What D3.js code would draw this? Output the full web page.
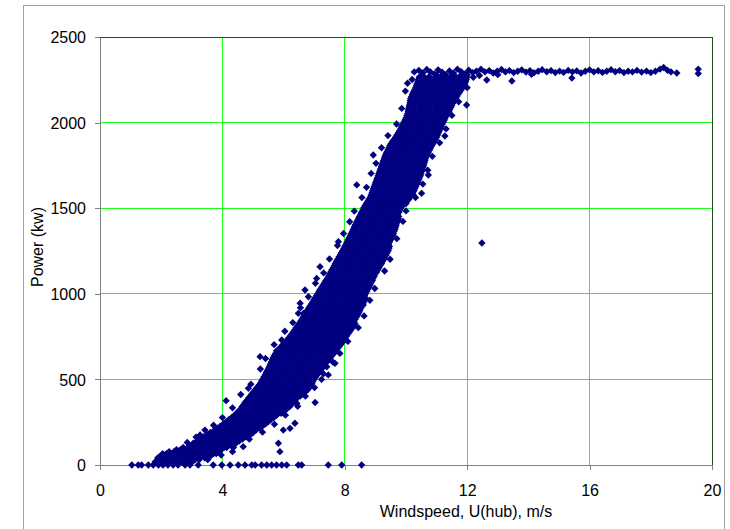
<!DOCTYPE html>
<html>
<head>
<meta charset="utf-8">
<script src="https://cdn.jsdelivr.net/npm/d3@7"></script>
<style>
  html, body { margin: 0; padding: 0; background: #fff; }
  svg text { font-family: "Liberation Sans", Arial, Helvetica, sans-serif; fill: #000; }
</style>
</head>
<body>
<svg id="chart" width="730" height="529"></svg>
<script>
// Axis ticks and titles
const xTicks = [0, 4, 8, 12, 16, 20];
const yTicks = [0, 500, 1000, 1500, 2000, 2500];
const xTitle = "Windspeed, U(hub), m/s";
const yTitle = "Power (kw)";

// Turbine stopped / idling: recorded wind speeds (m/s) at 0 kW
const zeroRow = [1.04, 1.25, 1.36, 1.58, 1.74, 1.91, 2.06, 2.22, 2.39, 2.55, 2.78, 2.94, 3.21, 3.7, 3.98,
  4.25, 4.52, 4.74, 4.96, 5.07, 5.28, 5.45, 5.61, 5.77, 5.94, 6.1, 6.48, 6.59, 7.46, 7.9, 8.55];

// Power band, grouped by power level (kW) -> wind speeds (m/s)
const lowBand = [
  [18, [1.80, 1.97, 2.15, 2.32, 2.49, 2.66, 2.84, 3.01]],
  [42, [1.89, 2.06, 2.24, 2.41, 2.58, 2.75, 2.93, 3.11, 3.26, 3.42]],
  [66, [2.05, 2.17, 2.33, 2.5, 2.67, 2.84, 3.02, 3.19, 3.37, 3.54, 3.71, 3.8]],
  [90, [2.5, 2.63, 2.79, 2.96, 3.13, 3.3, 3.46, 3.64, 3.81, 3.97]],
  [115, [2.93, 3.09, 3.27, 3.44, 3.62, 3.78, 3.96, 4.12, 4.27]],
  [140, [3.17, 3.35, 3.52, 3.7, 3.87, 4.05, 4.21, 4.38, 4.55]],
  [165, [3.39, 3.56, 3.73, 3.91, 4.08, 4.25, 4.43, 4.6, 4.78]],
  [190, [3.61, 3.78, 3.95, 4.12, 4.3, 4.47, 4.64, 4.82, 5.0]],
  [215, [3.84, 4.01, 4.18, 4.36, 4.53, 4.7, 4.88, 5.05, 5.21]],
  [240, [4.03, 4.2, 4.38, 4.55, 4.72, 4.9, 5.07, 5.24, 5.41]],
  [265, [4.21, 4.38, 4.56, 4.73, 4.9, 5.08, 5.25, 5.42, 5.58]],
  [290, [4.39, 4.56, 4.74, 4.91, 5.08, 5.26, 5.43, 5.6, 5.77]],
  [315, [4.53, 4.7, 4.88, 5.05, 5.22, 5.4, 5.57, 5.74, 5.91, 6.02]],
  [340, [4.64, 4.81, 4.99, 5.16, 5.33, 5.51, 5.68, 5.85, 6.03, 6.19]],
  [365, [4.74, 4.91, 5.09, 5.26, 5.43, 5.61, 5.78, 5.95, 6.13, 6.31]],
  [390, [4.85, 5.02, 5.2, 5.37, 5.54, 5.72, 5.89, 6.06, 6.24, 6.43]],
  [415, [4.96, 5.13, 5.31, 5.48, 5.65, 5.83, 6.0, 6.17, 6.35, 6.52, 6.61]],
  [440, [5.07, 5.24, 5.42, 5.59, 5.76, 5.94, 6.11, 6.28, 6.46, 6.63, 6.79]],
  [465, [5.19, 5.36, 5.54, 5.71, 5.88, 6.06, 6.23, 6.4, 6.58, 6.75, 6.89]],
  [490, [5.28, 5.45, 5.63, 5.8, 5.97, 6.15, 6.32, 6.49, 6.67, 6.84, 6.96]]
];
const lowFill = [
  [30, [1.88, 2.06, 2.23, 2.4, 2.58, 2.75, 2.93, 3.1, 3.24]],
  [54, [1.98, 2.15, 2.33, 2.5, 2.66, 2.84, 3.02, 3.19, 3.35, 3.5, 3.62]],
  [78, [2.26, 2.42, 2.59, 2.76, 2.93, 3.11, 3.28, 3.45, 3.63, 3.8, 3.9]],
  [102, [2.72, 2.88, 3.05, 3.21, 3.38, 3.55, 3.72, 3.89, 4.05, 4.14]],
  [127, [3.05, 3.18, 3.36, 3.53, 3.7, 3.87, 4.04, 4.21, 4.36, 4.44]],
  [152, [3.28, 3.44, 3.61, 3.79, 3.96, 4.13, 4.3, 4.47, 4.66]],
  [177, [3.5, 3.65, 3.82, 4.0, 4.17, 4.35, 4.52, 4.69, 4.86, 4.92]],
  [202, [3.73, 3.87, 4.04, 4.22, 4.39, 4.56, 4.74, 4.91, 5.09]],
  [227, [3.93, 4.1, 4.27, 4.45, 4.62, 4.79, 4.97, 5.14, 5.31]],
  [252, [4.12, 4.29, 4.47, 4.64, 4.81, 4.99, 5.16, 5.33, 5.5]],
  [277, [4.3, 4.47, 4.65, 4.82, 4.99, 5.17, 5.34, 5.51, 5.68]],
  [302, [4.46, 4.62, 4.8, 4.97, 5.14, 5.32, 5.49, 5.66, 5.83, 5.92]],
  [327, [4.6, 4.76, 4.93, 5.1, 5.27, 5.45, 5.62, 5.8, 5.97, 6.1]],
  [352, [4.7, 4.86, 5.04, 5.21, 5.38, 5.56, 5.73, 5.9, 6.08, 6.25]],
  [377, [4.8, 4.97, 5.15, 5.32, 5.49, 5.67, 5.84, 6.01, 6.19, 6.37]],
  [402, [4.91, 5.08, 5.26, 5.43, 5.6, 5.78, 5.95, 6.12, 6.3, 6.47, 6.54]],
  [427, [5.02, 5.19, 5.37, 5.54, 5.71, 5.89, 6.06, 6.23, 6.41, 6.58, 6.71]],
  [452, [5.13, 5.3, 5.48, 5.65, 5.82, 6.0, 6.17, 6.34, 6.52, 6.69, 6.84]],
  [477, [5.24, 5.41, 5.59, 5.76, 5.93, 6.11, 6.28, 6.45, 6.63, 6.8, 6.93]]
];

const midBand = [
  [515, [5.36, 5.53, 5.71, 5.88, 6.05, 6.23, 6.4, 6.57, 6.75, 6.92, 7.05]],
  [540, [5.43, 5.6, 5.78, 5.95, 6.12, 6.3, 6.47, 6.64, 6.82, 6.99, 7.15]],
  [565, [5.51, 5.68, 5.86, 6.03, 6.2, 6.38, 6.55, 6.72, 6.9, 7.07, 7.26]],
  [590, [5.57, 5.74, 5.92, 6.09, 6.26, 6.44, 6.61, 6.78, 6.96, 7.13, 7.32]],
  [615, [5.63, 5.8, 5.98, 6.15, 6.32, 6.5, 6.67, 6.84, 7.02, 7.19, 7.36, 7.48]],
  [640, [5.7, 5.87, 6.05, 6.22, 6.39, 6.57, 6.74, 6.91, 7.09, 7.26, 7.43, 7.58]],
  [665, [5.79, 5.96, 6.14, 6.31, 6.48, 6.66, 6.83, 7.0, 7.18, 7.35, 7.52, 7.69]],
  [690, [5.91, 6.08, 6.26, 6.43, 6.6, 6.78, 6.95, 7.12, 7.3, 7.47, 7.64, 7.81]],
  [715, [6.04, 6.21, 6.39, 6.56, 6.73, 6.91, 7.08, 7.25, 7.43, 7.6, 7.77, 7.92]],
  [740, [6.16, 6.33, 6.51, 6.68, 6.85, 7.03, 7.2, 7.37, 7.55, 7.72, 7.89, 8.0]],
  [765, [6.27, 6.44, 6.62, 6.79, 6.96, 7.14, 7.31, 7.48, 7.66, 7.83, 8.01, 8.1]],
  [790, [6.37, 6.54, 6.72, 6.89, 7.06, 7.24, 7.41, 7.58, 7.76, 7.93, 8.11, 8.2]],
  [815, [6.46, 6.63, 6.81, 6.98, 7.15, 7.33, 7.5, 7.67, 7.85, 8.02, 8.2, 8.29]],
  [840, [6.56, 6.73, 6.91, 7.08, 7.25, 7.43, 7.6, 7.77, 7.95, 8.12, 8.3]],
  [865, [6.64, 6.81, 6.99, 7.16, 7.33, 7.51, 7.68, 7.85, 8.03, 8.2, 8.38]],
  [890, [6.73, 6.9, 7.08, 7.25, 7.42, 7.6, 7.77, 7.94, 8.12, 8.29, 8.46]],
  [915, [6.82, 6.99, 7.17, 7.34, 7.51, 7.69, 7.86, 8.03, 8.21, 8.38, 8.52]],
  [940, [6.91, 7.08, 7.26, 7.43, 7.6, 7.78, 7.95, 8.12, 8.3, 8.47, 8.59]],
  [965, [6.99, 7.16, 7.34, 7.51, 7.68, 7.86, 8.03, 8.2, 8.38, 8.55, 8.64]],
  [990, [7.08, 7.25, 7.43, 7.6, 7.77, 7.95, 8.12, 8.29, 8.47, 8.64]],
  [1015, [7.16, 7.33, 7.51, 7.68, 7.85, 8.03, 8.2, 8.37, 8.55, 8.72]],
  [1040, [7.25, 7.42, 7.6, 7.77, 7.94, 8.12, 8.29, 8.46, 8.64, 8.79]],
  [1065, [7.34, 7.51, 7.69, 7.86, 8.03, 8.21, 8.38, 8.55, 8.73, 8.86]],
  [1090, [7.43, 7.6, 7.78, 7.95, 8.12, 8.3, 8.47, 8.64, 8.82, 8.92]],
  [1115, [7.51, 7.68, 7.86, 8.03, 8.2, 8.38, 8.55, 8.72, 8.9, 8.99]],
  [1140, [7.58, 7.75, 7.93, 8.1, 8.27, 8.45, 8.62, 8.79, 8.97, 9.07]],
  [1165, [7.66, 7.83, 8.01, 8.18, 8.35, 8.53, 8.7, 8.87, 9.05, 9.15]],
  [1190, [7.73, 7.9, 8.08, 8.25, 8.42, 8.6, 8.77, 8.94, 9.12, 9.23]],
  [1215, [7.81, 7.98, 8.16, 8.33, 8.5, 8.68, 8.85, 9.02, 9.2, 9.31]],
  [1240, [7.89, 8.06, 8.24, 8.41, 8.58, 8.76, 8.93, 9.1, 9.28, 9.38]],
  [1265, [7.97, 8.14, 8.32, 8.49, 8.66, 8.84, 9.01, 9.18, 9.36, 9.44]],
  [1290, [8.04, 8.21, 8.39, 8.56, 8.73, 8.91, 9.08, 9.25, 9.43]]
];
const midFill = [
  [502, [5.32, 5.49, 5.67, 5.84, 6.01, 6.19, 6.36, 6.53, 6.71, 6.88, 7.0]],
  [527, [5.4, 5.57, 5.75, 5.92, 6.09, 6.27, 6.44, 6.61, 6.79, 6.96, 7.1]],
  [552, [5.47, 5.64, 5.82, 5.99, 6.16, 6.34, 6.51, 6.68, 6.86, 7.03, 7.2]],
  [577, [5.54, 5.71, 5.89, 6.06, 6.23, 6.41, 6.58, 6.75, 6.93, 7.1, 7.28]],
  [602, [5.6, 5.77, 5.95, 6.12, 6.29, 6.47, 6.64, 6.81, 6.99, 7.16, 7.33, 7.42]],
  [627, [5.66, 5.83, 6.01, 6.18, 6.35, 6.53, 6.7, 6.87, 7.05, 7.22, 7.39, 7.53]],
  [652, [5.74, 5.91, 6.09, 6.26, 6.43, 6.61, 6.78, 6.95, 7.13, 7.3, 7.47, 7.64]],
  [677, [5.85, 6.02, 6.2, 6.37, 6.54, 6.72, 6.89, 7.06, 7.24, 7.41, 7.58, 7.75]],
  [702, [5.97, 6.14, 6.32, 6.49, 6.66, 6.84, 7.01, 7.18, 7.36, 7.53, 7.7, 7.86]],
  [727, [6.1, 6.27, 6.45, 6.62, 6.79, 6.97, 7.14, 7.31, 7.49, 7.66, 7.83, 7.96]],
  [752, [6.21, 6.38, 6.56, 6.73, 6.9, 7.08, 7.25, 7.42, 7.6, 7.77, 7.94, 8.05]],
  [777, [6.32, 6.49, 6.67, 6.84, 7.01, 7.19, 7.36, 7.53, 7.71, 7.88, 8.05, 8.15]],
  [802, [6.41, 6.58, 6.76, 6.93, 7.1, 7.28, 7.45, 7.62, 7.8, 7.97, 8.14, 8.25]],
  [827, [6.51, 6.68, 6.86, 7.03, 7.2, 7.38, 7.55, 7.72, 7.9, 8.07, 8.24, 8.33]],
  [852, [6.6, 6.77, 6.95, 7.12, 7.29, 7.47, 7.64, 7.81, 7.99, 8.16, 8.34]],
  [877, [6.68, 6.85, 7.03, 7.2, 7.37, 7.55, 7.72, 7.89, 8.07, 8.24, 8.42]],
  [902, [6.77, 6.94, 7.12, 7.29, 7.46, 7.64, 7.81, 7.98, 8.16, 8.33, 8.49]],
  [927, [6.86, 7.03, 7.21, 7.38, 7.55, 7.73, 7.9, 8.07, 8.25, 8.42, 8.56]],
  [952, [6.95, 7.12, 7.3, 7.47, 7.64, 7.82, 7.99, 8.16, 8.34, 8.51, 8.62]],
  [977, [7.03, 7.2, 7.38, 7.55, 7.72, 7.9, 8.07, 8.24, 8.42, 8.58, 8.67]],
  [1002, [7.12, 7.29, 7.47, 7.64, 7.81, 7.99, 8.16, 8.33, 8.51, 8.68]],
  [1027, [7.2, 7.37, 7.55, 7.72, 7.89, 8.07, 8.24, 8.41, 8.59, 8.75]],
  [1052, [7.29, 7.46, 7.64, 7.81, 7.98, 8.16, 8.33, 8.5, 8.68, 8.83]],
  [1077, [7.38, 7.55, 7.73, 7.9, 8.07, 8.25, 8.42, 8.59, 8.77, 8.9]],
  [1102, [7.47, 7.64, 7.82, 7.99, 8.16, 8.34, 8.51, 8.68, 8.86, 8.96]],
  [1127, [7.54, 7.71, 7.89, 8.06, 8.23, 8.41, 8.58, 8.75, 8.93, 9.04]],
  [1152, [7.62, 7.79, 7.97, 8.14, 8.31, 8.49, 8.66, 8.83, 9.01, 9.12]],
  [1177, [7.69, 7.86, 8.04, 8.21, 8.38, 8.56, 8.73, 8.9, 9.08, 9.2]],
  [1202, [7.77, 7.94, 8.12, 8.29, 8.46, 8.64, 8.81, 8.98, 9.16, 9.28]],
  [1227, [7.85, 8.02, 8.2, 8.37, 8.54, 8.72, 8.89, 9.06, 9.24, 9.35]],
  [1252, [7.93, 8.1, 8.28, 8.45, 8.62, 8.8, 8.97, 9.14, 9.32, 9.42]],
  [1277, [8.0, 8.17, 8.35, 8.52, 8.69, 8.87, 9.04, 9.21, 9.39, 9.46]]
];

const highBand = [
  [1315, [8.11, 8.28, 8.46, 8.63, 8.8, 8.98, 9.15, 9.32, 9.5]],
  [1340, [8.18, 8.35, 8.53, 8.7, 8.87, 9.05, 9.22, 9.39, 9.56]],
  [1365, [8.25, 8.42, 8.6, 8.77, 8.94, 9.12, 9.29, 9.46, 9.61]],
  [1390, [8.31, 8.48, 8.66, 8.83, 9.0, 9.18, 9.35, 9.52, 9.66]],
  [1415, [8.38, 8.55, 8.73, 8.9, 9.07, 9.25, 9.42, 9.59, 9.7]],
  [1440, [8.45, 8.62, 8.8, 8.97, 9.14, 9.32, 9.49, 9.66, 9.75]],
  [1465, [8.52, 8.69, 8.87, 9.04, 9.21, 9.39, 9.56, 9.73]],
  [1490, [8.59, 8.76, 8.94, 9.11, 9.28, 9.46, 9.63, 9.8]],
  [1515, [8.66, 8.83, 9.01, 9.18, 9.35, 9.53, 9.7, 9.88]],
  [1540, [8.75, 8.92, 9.1, 9.27, 9.44, 9.62, 9.79, 9.96, 10.03]],
  [1565, [8.84, 9.01, 9.19, 9.36, 9.53, 9.71, 9.88, 10.05, 10.13]],
  [1590, [8.89, 9.06, 9.24, 9.41, 9.58, 9.76, 9.93, 10.1, 10.22]],
  [1615, [8.94, 9.11, 9.29, 9.46, 9.63, 9.81, 9.98, 10.15, 10.29]],
  [1640, [8.99, 9.16, 9.34, 9.51, 9.68, 9.86, 10.03, 10.2, 10.35]],
  [1665, [9.04, 9.21, 9.39, 9.56, 9.73, 9.91, 10.08, 10.25, 10.41]],
  [1690, [9.09, 9.26, 9.44, 9.61, 9.78, 9.96, 10.13, 10.3, 10.47]],
  [1715, [9.14, 9.31, 9.49, 9.66, 9.83, 10.01, 10.18, 10.35, 10.51]],
  [1740, [9.19, 9.36, 9.54, 9.71, 9.88, 10.06, 10.23, 10.4, 10.56]],
  [1765, [9.24, 9.41, 9.59, 9.76, 9.93, 10.11, 10.28, 10.45, 10.6]],
  [1790, [9.29, 9.46, 9.64, 9.81, 9.98, 10.16, 10.33, 10.5, 10.64]],
  [1815, [9.34, 9.51, 9.69, 9.86, 10.03, 10.21, 10.38, 10.55, 10.69]],
  [1840, [9.41, 9.58, 9.76, 9.93, 10.1, 10.28, 10.45, 10.62, 10.77]],
  [1865, [9.47, 9.64, 9.82, 9.99, 10.16, 10.34, 10.51, 10.68, 10.84]],
  [1890, [9.56, 9.73, 9.91, 10.08, 10.25, 10.43, 10.6, 10.77, 10.92]],
  [1915, [9.66, 9.83, 10.01, 10.18, 10.35, 10.53, 10.7, 10.87, 11.0]],
  [1940, [9.75, 9.92, 10.1, 10.27, 10.44, 10.62, 10.79, 10.96, 11.06]],
  [1965, [9.83, 10.0, 10.18, 10.35, 10.52, 10.7, 10.87, 11.04, 11.12]],
  [1990, [9.9, 10.07, 10.25, 10.42, 10.59, 10.77, 10.94, 11.11, 11.18]],
  [2015, [9.97, 10.14, 10.32, 10.49, 10.66, 10.84, 11.01, 11.18, 11.25]],
  [2040, [10.03, 10.2, 10.38, 10.55, 10.72, 10.9, 11.07, 11.24, 11.32]],
  [2065, [10.07, 10.24, 10.42, 10.59, 10.76, 10.94, 11.11, 11.28, 11.4]],
  [2090, [10.1, 10.27, 10.45, 10.62, 10.79, 10.97, 11.14, 11.31, 11.47]],
  [2115, [10.13, 10.3, 10.48, 10.65, 10.82, 11.0, 11.17, 11.34, 11.53]],
  [2140, [10.15, 10.32, 10.5, 10.67, 10.84, 11.02, 11.19, 11.36, 11.54, 11.62]],
  [2165, [10.21, 10.38, 10.56, 10.73, 10.9, 11.08, 11.25, 11.42, 11.6, 11.7]],
  [2190, [10.28, 10.45, 10.63, 10.8, 10.97, 11.15, 11.32, 11.49, 11.67, 11.8]],
  [2215, [10.34, 10.51, 10.69, 10.86, 11.03, 11.21, 11.38, 11.55, 11.73, 11.88]],
  [2240, [10.39, 10.56, 10.74, 10.91, 11.08, 11.26, 11.43, 11.6, 11.78, 11.95]],
  [2265, [10.43, 10.6, 10.78, 10.95, 11.12, 11.3, 11.47, 11.64, 11.82, 11.99]]
];
const highFill = [
  [1302, [8.07, 8.24, 8.42, 8.59, 8.76, 8.94, 9.11, 9.28, 9.46]],
  [1327, [8.14, 8.31, 8.49, 8.66, 8.83, 9.01, 9.18, 9.35, 9.53]],
  [1352, [8.21, 8.38, 8.56, 8.73, 8.9, 9.08, 9.25, 9.42, 9.59]],
  [1377, [8.28, 8.45, 8.63, 8.8, 8.97, 9.15, 9.32, 9.49, 9.64]],
  [1402, [8.34, 8.51, 8.69, 8.86, 9.03, 9.21, 9.38, 9.55, 9.68]],
  [1427, [8.41, 8.58, 8.76, 8.93, 9.1, 9.28, 9.45, 9.62, 9.73]],
  [1452, [8.48, 8.65, 8.83, 9.0, 9.17, 9.35, 9.52, 9.69, 9.76]],
  [1477, [8.55, 8.72, 8.9, 9.07, 9.24, 9.42, 9.59, 9.77]],
  [1502, [8.62, 8.79, 8.97, 9.14, 9.31, 9.49, 9.66, 9.84]],
  [1527, [8.7, 8.87, 9.05, 9.22, 9.39, 9.57, 9.74, 9.92, 10.0]],
  [1552, [8.79, 8.96, 9.14, 9.31, 9.48, 9.66, 9.83, 10.0, 10.09]],
  [1577, [8.86, 9.03, 9.21, 9.38, 9.55, 9.73, 9.9, 10.07, 10.18]],
  [1602, [8.91, 9.08, 9.26, 9.43, 9.6, 9.78, 9.95, 10.12, 10.26]],
  [1627, [8.96, 9.13, 9.31, 9.48, 9.65, 9.83, 10.0, 10.17, 10.32]],
  [1652, [9.01, 9.18, 9.36, 9.53, 9.7, 9.88, 10.05, 10.22, 10.38]],
  [1677, [9.06, 9.23, 9.41, 9.58, 9.75, 9.93, 10.1, 10.27, 10.44]],
  [1702, [9.11, 9.28, 9.46, 9.63, 9.8, 9.98, 10.15, 10.32, 10.49]],
  [1727, [9.16, 9.33, 9.51, 9.68, 9.85, 10.03, 10.2, 10.37, 10.53]],
  [1752, [9.21, 9.38, 9.56, 9.73, 9.9, 10.08, 10.25, 10.42, 10.58]],
  [1777, [9.26, 9.43, 9.61, 9.78, 9.95, 10.13, 10.3, 10.47, 10.62]],
  [1802, [9.31, 9.48, 9.66, 9.83, 10.0, 10.18, 10.35, 10.52, 10.66]],
  [1827, [9.37, 9.54, 9.72, 9.89, 10.06, 10.24, 10.41, 10.58, 10.73]],
  [1852, [9.44, 9.61, 9.79, 9.96, 10.13, 10.31, 10.48, 10.65, 10.8]],
  [1877, [9.51, 9.68, 9.86, 10.03, 10.2, 10.38, 10.55, 10.72, 10.88]],
  [1902, [9.61, 9.78, 9.96, 10.13, 10.3, 10.48, 10.65, 10.82, 10.96]],
  [1927, [9.7, 9.87, 10.05, 10.22, 10.39, 10.57, 10.74, 10.91, 11.03]],
  [1952, [9.79, 9.96, 10.14, 10.31, 10.48, 10.66, 10.83, 11.0, 11.09]],
  [1977, [9.86, 10.03, 10.21, 10.38, 10.55, 10.73, 10.9, 11.07, 11.15]],
  [2002, [9.93, 10.1, 10.28, 10.45, 10.62, 10.8, 10.97, 11.14, 11.22]],
  [2027, [10.0, 10.17, 10.35, 10.52, 10.69, 10.87, 11.04, 11.21, 11.28]],
  [2052, [10.05, 10.22, 10.4, 10.57, 10.74, 10.92, 11.09, 11.26, 11.36]],
  [2077, [10.08, 10.25, 10.43, 10.6, 10.77, 10.95, 11.12, 11.29, 11.43]],
  [2102, [10.11, 10.28, 10.46, 10.63, 10.8, 10.98, 11.15, 11.32, 11.5]],
  [2127, [10.14, 10.31, 10.49, 10.66, 10.83, 11.01, 11.18, 11.35, 11.52, 11.58]],
  [2152, [10.18, 10.35, 10.53, 10.7, 10.87, 11.05, 11.22, 11.39, 11.57, 11.66]],
  [2177, [10.24, 10.41, 10.59, 10.76, 10.93, 11.11, 11.28, 11.45, 11.63, 11.75]],
  [2202, [10.31, 10.48, 10.66, 10.83, 11.0, 11.18, 11.35, 11.52, 11.7, 11.84]],
  [2227, [10.36, 10.53, 10.71, 10.88, 11.05, 11.23, 11.4, 11.57, 11.75, 11.92]],
  [2252, [10.41, 10.58, 10.76, 10.93, 11.1, 11.28, 11.45, 11.62, 11.8, 11.97]]
];

// Readings along the ragged edges of the band: [wind speed m/s, power kW]
const bandEdges = [
  [2.85, 132], [3.14, 163], [3.43, 204], [3.71, 232], [4.0, 277], [4.33, 334], [4.6, 412], [4.93, 472],
  [5.24, 561], [5.41, 622], [5.69, 703], [6.04, 781], [6.3, 832], [6.55, 918], [6.81, 983], [7.04, 1061],
  [7.31, 1122], [7.5, 1203], [7.76, 1282], [7.96, 1352], [8.16, 1421], [8.31, 1483], [8.56, 1562],
  [8.71, 1622], [8.86, 1703], [9.02, 1762], [9.2, 1853], [9.41, 1924], [9.69, 1992], [9.86, 2083],
  [9.98, 2184], [10.2, 2252], [10.05, 2230], [10.27, 2296],
  [3.52, 31], [3.96, 58], [4.36, 102], [4.88, 151], [5.31, 192], [5.7, 238], [6.06, 291], [6.46, 343],
  [6.71, 402], [7.01, 452], [7.3, 533], [7.84, 652], [8.1, 722], [8.44, 802], [8.63, 871], [8.82, 962],
  [8.98, 1031], [9.3, 1133], [9.48, 1202], [9.7, 1322], [9.9, 1423], [10.0, 1484], [10.31, 1562],
  [10.55, 1641], [10.71, 1722], [10.86, 1803], [11.1, 1882], [11.31, 1963], [11.5, 2042], [11.72, 2122],
  [12.0, 2204]
];

// Rated-power plateau: [wind speed m/s, power kW]
const plateau = [
  [10.42, 2305], [10.55, 2290], [10.68, 2310], [10.8, 2296], [10.93, 2285], [11.05, 2308], [11.18, 2294],
  [11.3, 2280], [11.42, 2302], [11.55, 2290], [11.68, 2312], [11.8, 2298], [11.93, 2284], [12.05, 2306],
  [12.18, 2292], [12.3, 2300], [12.45, 2312], [12.58, 2296], [12.72, 2304], [12.85, 2290], [12.98, 2300],
  [13.12, 2310], [13.25, 2296], [13.38, 2304], [13.52, 2292], [13.65, 2300], [13.78, 2308], [13.92, 2295],
  [14.05, 2303], [14.18, 2291], [14.32, 2300], [14.45, 2309], [14.6, 2297], [14.74, 2304], [14.88, 2292],
  [15.02, 2301], [15.15, 2293], [15.3, 2305], [15.44, 2296], [15.58, 2302], [15.72, 2290], [15.86, 2300],
  [16.0, 2308], [16.14, 2296], [16.28, 2303], [16.42, 2293], [16.56, 2300], [16.7, 2309], [16.84, 2297],
  [16.98, 2304], [17.12, 2292], [17.26, 2300], [17.4, 2296], [17.55, 2305], [17.7, 2295], [17.86, 2301],
  [18.0, 2292], [18.15, 2300], [18.3, 2312], [18.42, 2322], [18.55, 2305], [18.66, 2296], [18.85, 2290],
  [19.55, 2312], [19.55, 2287],
  [10.5, 2272], [10.75, 2268], [11.0, 2278], [11.25, 2266], [11.5, 2275], [11.75, 2270], [12.0, 2278],
  [12.2, 2265], [12.4, 2275], [12.64, 2249], [13.46, 2243], [15.42, 2260], [13.0, 2280], [14.1, 2282]
];

// Scattered readings away from the main band: [wind speed m/s, power kW]
const outliers = [
  [12.48, 1297],
  [5.83, 127], [5.88, 78], [5.99, 204], [6.21, 214], [6.37, 244], [6.43, 360], [7.03, 365],
  [5.23, 633], [4.12, 376], [3.27, 175], [3.54, 175], [4.68, 107], [4.33, 78],
  [4.85, 448], [5.77, 667], [5.94, 730], [6.54, 945], [6.48, 886], [6.65, 886],
  [8.6, 935], [7.62, 600], [7.41, 574], [7.24, 500], [7.46, 526], [7.68, 594], [8.17, 789],
  [6.7, 1022], [7.19, 1158], [7.08, 1090], [9.15, 1168], [9.31, 1227],
  [8.39, 1636], [7.79, 1304], [8.93, 1811], [11.27, 1922], [10.24, 1577], [10.51, 1587],
  [10.73, 1694], [10.35, 1655], [11.98, 2103]
];

const margin = { left: 100, right: 712, top: 37, bottom: 465 };
const svg = d3.select("#chart");

const x = d3.scaleLinear().domain([0, 20]).range([margin.left, margin.right]);
const y = d3.scaleLinear().domain([0, 2500]).range([margin.bottom, margin.top]);

// Chart frame
svg.append("rect")
  .attr("x", 23.5).attr("y", 5.5)
  .attr("width", 701).attr("height", 540)
  .attr("fill", "#fff").attr("stroke", "#a0a0a0").attr("stroke-width", 1);

// Gridlines
const grid = svg.append("g").attr("shape-rendering", "crispEdges");
grid.selectAll("line.vx").data(xTicks.filter(t => t > 0 && t < 20)).join("line")
  .attr("x1", d => x(d)).attr("x2", d => x(d))
  .attr("y1", margin.top).attr("y2", margin.bottom)
  .attr("stroke", "#1aff1a");
grid.selectAll("line.hy").data(yTicks.filter(t => t > 0 && t < 2500)).join("line")
  .attr("x1", margin.left).attr("x2", margin.right)
  .attr("y1", d => y(d)).attr("y2", d => y(d))
  .attr("stroke", "#1aff1a");

// Plot area border
svg.append("rect")
  .attr("x", margin.left).attr("y", margin.top)
  .attr("width", margin.right - margin.left).attr("height", margin.bottom - margin.top)
  .attr("fill", "none").attr("stroke", "#1f4f1f").attr("shape-rendering", "crispEdges");

// Axes
const yAxis = svg.append("g")
  .attr("transform", `translate(${margin.left},0)`)
  .call(d3.axisLeft(y).tickValues(yTicks).tickSize(5).tickSizeOuter(0).tickPadding(9).tickFormat(d3.format("d")));
const xAxis = svg.append("g")
  .attr("transform", `translate(0,${margin.bottom})`)
  .call(d3.axisBottom(x).tickValues(xTicks).tickSize(5).tickSizeOuter(0).tickPadding(14.6).tickFormat(d3.format("d")));

[yAxis, xAxis].forEach(g => {
  g.attr("shape-rendering", "crispEdges");
  g.select(".domain").attr("stroke", "#808080");
  g.selectAll(".tick line").attr("stroke", "#808080");
  g.selectAll(".tick text").attr("font-size", 16).attr("fill", "#000")
    .attr("font-family", "'Liberation Sans', Arial, sans-serif");
});
yAxis.selectAll(".tick text").attr("dy", "0.36em");

// Axis titles
svg.append("text")
  .attr("x", 466).attr("y", 517)
  .attr("text-anchor", "middle").attr("font-size", 16)
  .text(xTitle);
svg.append("text")
  .attr("transform", "translate(43,247) rotate(-90)")
  .attr("text-anchor", "middle").attr("font-size", 16)
  .text(yTitle);

// Measurements
const fromRows = rows => rows.flatMap(([p, speeds]) => speeds.map(v => [v, p]));
const points = [
  ...zeroRow.map(v => [v, 0]),
  ...fromRows(lowBand), ...fromRows(lowFill),
  ...fromRows(midBand), ...fromRows(midFill),
  ...fromRows(highBand), ...fromRows(highFill),
  ...bandEdges,
  ...plateau,
  ...outliers
];

const diamond = d3.symbol().type(d3.symbolSquare).size(27);
svg.append("g").attr("fill", "#000080")
  .selectAll("path").data(points).join("path")
  .attr("d", diamond)
  .attr("transform", d => `translate(${x(d[0])},${y(d[1])}) rotate(45)`);
</script>
</body>
</html>
